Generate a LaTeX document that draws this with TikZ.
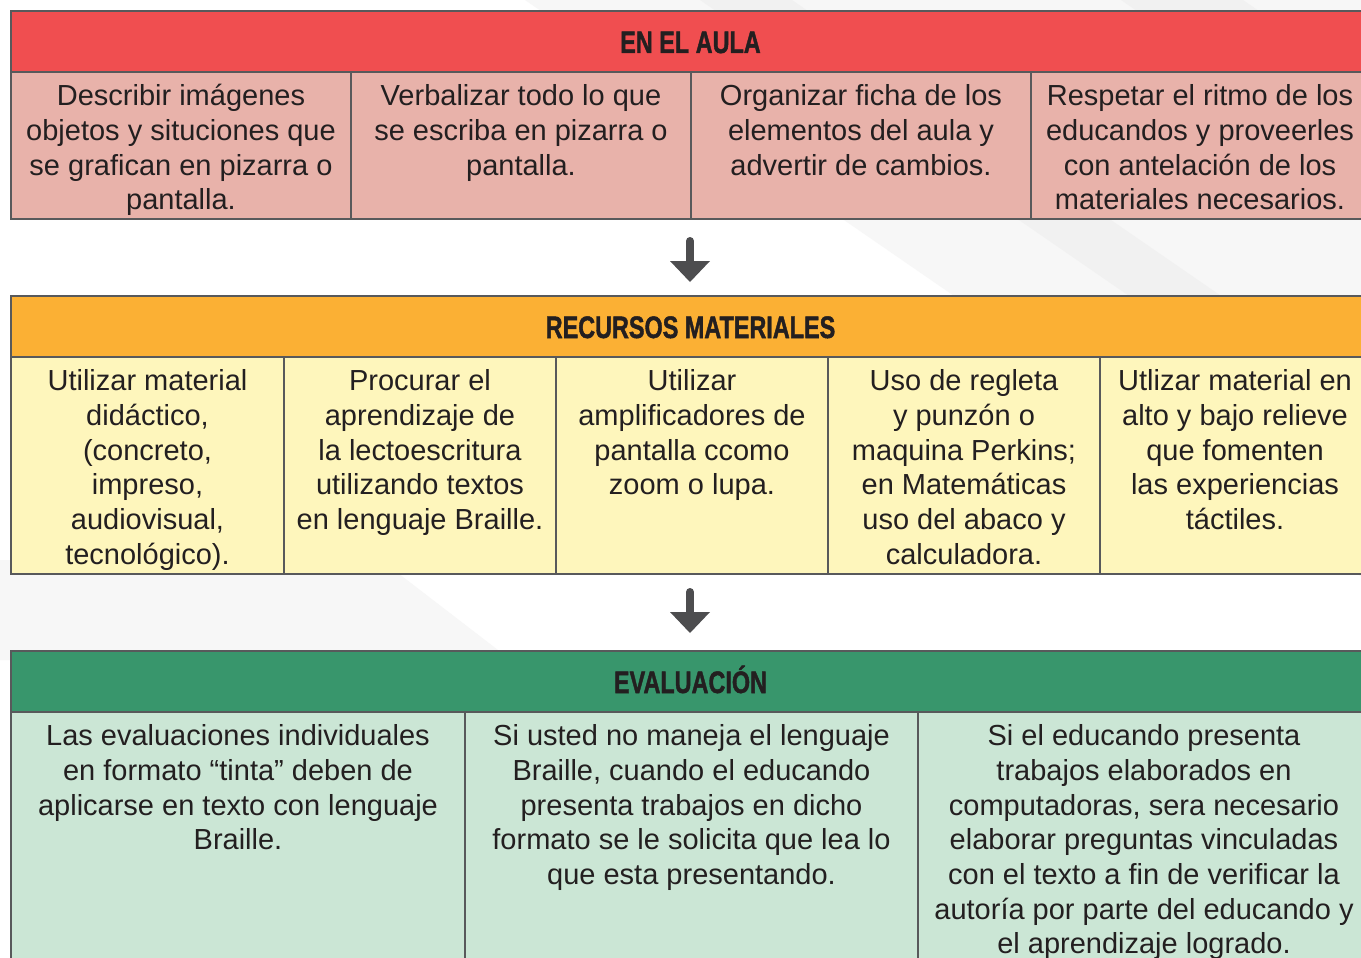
\documentclass[tikz,border=0pt]{standalone}
\usepackage{fontspec}
\setmainfont{Liberation Sans}
\newfontfamily\hdfont[FakeBold=1.6]{Liberation Sans Bold}
\usepackage{graphicx}
\definecolor{bord}{HTML}{58595B}
\definecolor{redH}{HTML}{F04E50}
\definecolor{redC}{HTML}{E8B2AA}
\definecolor{orH}{HTML}{FBB034}
\definecolor{yeC}{HTML}{FEF6BC}
\definecolor{grH}{HTML}{38966C}
\definecolor{grC}{HTML}{CBE6D5}
\definecolor{txt}{HTML}{231F20}
\definecolor{arrc}{HTML}{4D4D4F}
\definecolor{bgA}{HTML}{F7F7F7}
\definecolor{bgB}{HTML}{F1F1F1}
\newcommand{\hd}[1]{\scalebox{0.755}[1]{\fontsize{31}{31}\hdfont #1}}
\newcommand{\fs}{\rule{0pt}{28pt}}
\begin{document}
\begin{tikzpicture}[x=1pt,y=-1pt,
  cell/.style={align=center, inner sep=0pt, anchor=north, text=txt, font=\fontsize{29}{34.7}\selectfont},
  head/.style={inner sep=0pt, anchor=base, text=txt},
  frame/.style={draw=bord, line width=2.8pt},
  divider/.style={draw=bord, line width=2.5pt},
  shaft/.style={draw=arrc, line width=8pt, line cap=round},
  tip/.style={fill=arrc}]
\useasboundingbox (0,0) rectangle (1361,958);
\clip (0,0) rectangle (1361,958);
\fill[white] (0,0) rectangle (1361,958);
% faint background bands
\fill[bgA] (525,0) -- (1361,0) -- (1361,958) -- (525+1389,958) -- cycle;
\fill[bgB] (700,0) -- (792,0) -- (792+1389,958) -- (700+1389,958) -- cycle;
\fill[bgB] (1121,0) -- (1243,0) -- (1243+1389,958) -- (1121+1389,958) -- cycle;
\fill[bgA] (0,560) -- (381,560) -- (511,660) -- (0,660) -- cycle;

% ---------- table 1 ----------
\fill[redH] (11,11) rectangle (1370,72);
\fill[redC] (11,72) rectangle (1370,219);
\draw[divider] (11,72) -- (1370,72);
\foreach \x in {351,691,1031} \draw[divider] (\x,72) -- (\x,219);
\draw[frame] (11,11) rectangle (1370,219);
\node[head] (h1) at (690.5,53) {\hd{EN EL AULA}};
\node[cell] (c11) at (181,77.5) {\fs Describir imágenes\\objetos y situciones que\\se grafican en pizarra o\\pantalla.};
\node[cell] (c12) at (521,77.5) {\fs Verbalizar todo lo que\\se escriba en pizarra o\\pantalla.};
\node[cell] (c13) at (861,77.5) {\fs Organizar ficha de los\\elementos del aula y\\advertir de cambios.};
\node[cell] (c14) at (1200,77.5) {\fs Respetar el ritmo de los\\educandos y proveerles\\con antelación de los\\materiales necesarios.};

% ---------- arrow 1 ----------
\coordinate (a1s) at (690,241);
\coordinate (a1h) at (690,261);
\coordinate (a1e) at (690,282);
\draw[shaft] (a1s) -- ([yshift=-2pt]a1h);
\fill[tip] ([xshift=-20pt]a1h) -- ([xshift=20pt]a1h) -- (a1e) -- cycle;

% ---------- table 2 ----------
\fill[orH] (11,296) rectangle (1370,357);
\fill[yeC] (11,357) rectangle (1370,574);
\draw[divider] (11,357) -- (1370,357);
\foreach \x in {284,556,828,1100} \draw[divider] (\x,357) -- (\x,574);
\draw[frame] (11,296) rectangle (1370,574);
\node[head] (h2) at (690.5,338) {\hd{RECURSOS MATERIALES}};
\node[cell] (c21) at (147.5,362.5) {\fs Utilizar material\\didáctico,\\(concreto,\\impreso,\\audiovisual,\\tecnológico).};
\node[cell] (c22) at (420,362.5) {\fs Procurar el\\aprendizaje de\\la lectoescritura\\utilizando textos\\en lenguaje Braille.};
\node[cell] (c23) at (692,362.5) {\fs Utilizar\\amplificadores de\\pantalla ccomo\\zoom o lupa.};
\node[cell] (c24) at (964,362.5) {\fs Uso de regleta\\y punzón o\\maquina Perkins;\\en Matemáticas\\uso del abaco y\\calculadora.};
\node[cell] (c25) at (1235,362.5) {\fs Utlizar material en\\alto y bajo relieve\\que fomenten\\las experiencias\\táctiles.};

% ---------- arrow 2 ----------
\coordinate (a2s) at (690,592);
\coordinate (a2h) at (690,612);
\coordinate (a2e) at (690,633);
\draw[shaft] (a2s) -- ([yshift=-2pt]a2h);
\fill[tip] ([xshift=-20pt]a2h) -- ([xshift=20pt]a2h) -- (a2e) -- cycle;

% ---------- table 3 ----------
\fill[grH] (11,651) rectangle (1370,712);
\fill[grC] (11,712) rectangle (1370,990);
\draw[divider] (11,712) -- (1370,712);
\foreach \x in {465,918} \draw[divider] (\x,712) -- (\x,990);
\draw[frame] (11,651) rectangle (1370,990);
\node[head] (h3) at (690.5,693) {\hd{EVALUACIÓN}};
\node[cell] (c31) at (238,717.5) {\fs Las evaluaciones individuales\\en formato “tinta” deben de\\aplicarse en texto con lenguaje\\Braille.};
\node[cell] (c32) at (691.5,717.5) {\fs Si usted no maneja el lenguaje\\Braille, cuando el educando\\presenta trabajos en dicho\\formato se le solicita que lea lo\\que esta presentando.};
\node[cell] (c33) at (1144,717.5) {\fs Si el educando presenta\\trabajos elaborados en\\computadoras, sera necesario\\elaborar preguntas vinculadas\\con el texto a fin de verificar la\\autoría por parte del educando y\\el aprendizaje logrado.};
\end{tikzpicture}
\end{document}
